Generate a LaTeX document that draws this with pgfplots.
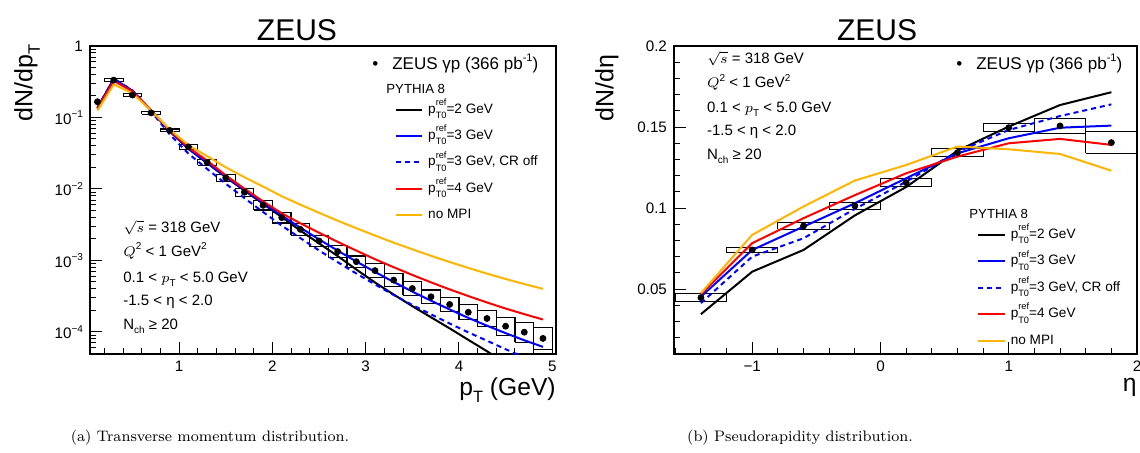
\documentclass[border=0pt]{standalone}
\usepackage{pgfplots}
\pgfplotsset{compat=1.18}
\usepackage{fontspec}
\newfontfamily\arial{Liberation Sans}
\definecolor{rootorange}{RGB}{255,180,0}
\definecolor{rootblue}{RGB}{0,0,255}
\definecolor{rootred}{RGB}{255,0,0}
\newcommand{\supr}[1]{\raisebox{0.42em}{\fontsize{5}{6}\selectfont #1}}
\newcommand{\subr}[1]{\raisebox{-0.28em}{\fontsize{5}{6}\selectfont #1}}
\newcommand{\ptref}[1]{p\rlap{\raisebox{0.58em}{\fontsize{4.6}{5}\selectfont ref}}\raisebox{-0.4em}{\fontsize{4.6}{5}\selectfont T0}#1}
\pgfplotsset{
  rootstyle/.style={
    scale only axis, height=154pt,
    axis line style={line width=0.75pt},
    tick style={line width=0.5pt, black},
    major tick length=6pt, minor tick length=3pt,
    tick pos=left, tick align=inside,
    tick label style={font=\arial\fontsize{7.6}{9}\selectfont},
    legend style={draw=none, fill=none, font=\arial\fontsize{6.8}{8}\selectfont,
      legend cell align=left, row sep=4.7pt,
      nodes={inner sep=0pt, text height=6pt, text depth=2.5pt},
      /tikz/every odd column/.append style={column sep=2.5pt}},
    legend image code/.code={\draw[##1] (0pt,0pt) -- (13.3pt,0pt);},
    unbounded coords=jump,
  },
  sysbox/.style={black, line width=0.55pt, mark=none, forget plot},
  datapt/.style={only marks, mark=*, mark size=1.5pt, black, forget plot},
  mc/.style={line width=1pt, mark=none},
}
\begin{document}
\begin{tikzpicture}
\useasboundingbox (0pt,0pt) rectangle (570pt,226pt);
% ---------------- left: pT ----------------
\begin{axis}[rootstyle, at={(45pt,49pt)}, anchor=south west, width=233pt,
  ymode=log, xmin=0.045, xmax=5.04, ymin=4.9e-5, ymax=1,
  xtick={1,2,3,4,5}, xticklabels={1,2,3,4,5},
  minor xtick={0.2,0.4,0.6,0.8,1.2,1.4,1.6,1.8,2.2,2.4,2.6,2.8,3.2,3.4,3.6,3.8,4.2,4.4,4.6,4.8},
  ytick={1e-4,1e-3,1e-2,1e-1,1},
  yticklabels={10\supr{−4},10\supr{−3},10\supr{−2},10\supr{−1},1},
  minor ytick={5e-5,6e-5,7e-5,8e-5,9e-5,2e-4,3e-4,4e-4,5e-4,6e-4,7e-4,8e-4,9e-4,2e-3,3e-3,4e-3,5e-3,6e-3,7e-3,8e-3,9e-3,2e-2,3e-2,4e-2,5e-2,6e-2,7e-2,8e-2,9e-2,0.2,0.3,0.4,0.5,0.6,0.7,0.8,0.9},
  legend style={at={(rel axis cs:0.640,0.622)}, anchor=west},
]
\addplot[sysbox] coordinates {
(0.10,0.1585) (0.15,0.1585) (0.15,0.1738) (0.10,0.1738) (0.10,0.1585) (nan,nan)
(0.2,0.318) (0.4,0.318) (0.4,0.3487) (0.2,0.3487) (0.2,0.318) (nan,nan)
(0.4,0.1968) (0.6,0.1968) (0.6,0.2157) (0.4,0.2157) (0.4,0.1968) (nan,nan)
(0.6,0.1108) (0.8,0.1108) (0.8,0.1215) (0.6,0.1215) (0.6,0.1108) (nan,nan)
(0.8,0.06285) (1.0,0.06285) (1.0,0.06889) (0.8,0.06889) (0.8,0.06285) (nan,nan)
(1.0,0.03579) (1.2,0.03579) (1.2,0.04206) (1.0,0.04206) (1.0,0.03579) (nan,nan)
(1.2,0.02153) (1.4,0.02153) (1.4,0.02587) (1.2,0.02587) (1.2,0.02153) (nan,nan)
(1.4,0.01279) (1.6,0.01279) (1.6,0.01587) (1.4,0.01587) (1.4,0.01279) (nan,nan)
(1.6,0.00793) (1.8,0.00793) (1.8,0.01022) (1.6,0.01022) (1.6,0.00793) (nan,nan)
(1.8,0.00508) (2.0,0.00508) (2.0,0.00685) (1.8,0.00685) (1.8,0.00508) (nan,nan)
(2.0,0.00334) (2.2,0.00334) (2.2,0.00472) (2.0,0.00472) (2.0,0.00334) (nan,nan)
(2.2,0.002263) (2.4,0.002263) (2.4,0.00327) (2.2,0.00327) (2.2,0.002263) (nan,nan)
(2.4,0.001556) (2.6,0.001556) (2.6,0.002248) (2.4,0.002248) (2.4,0.001556) (nan,nan)
(2.6,0.001107) (2.8,0.001107) (2.8,0.001599) (2.6,0.001599) (2.6,0.001107) (nan,nan)
(2.8,0.000799) (3.0,0.000799) (3.0,0.001154) (2.8,0.001154) (2.8,0.000799) (nan,nan)
(3.0,0.000578) (3.2,0.000578) (3.2,0.000896) (3.0,0.000896) (3.0,0.000578) (nan,nan)
(3.2,0.000426) (3.4,0.000426) (3.4,0.00066) (3.2,0.00066) (3.2,0.000426) (nan,nan)
(3.4,0.000325) (3.6,0.000325) (3.6,0.000504) (3.4,0.000504) (3.4,0.000325) (nan,nan)
(3.6,0.000249) (3.8,0.000249) (3.8,0.000386) (3.6,0.000386) (3.6,0.000249) (nan,nan)
(3.8,0.000194) (4.0,0.000194) (4.0,0.000301) (3.8,0.000301) (3.8,0.000194) (nan,nan)
(4.0,0.0001476) (4.2,0.0001476) (4.2,0.0002395) (4.0,0.0002395) (4.0,0.0001476) (nan,nan)
(4.2,0.0001182) (4.4,0.0001182) (4.4,0.0002007) (4.2,0.0002007) (4.2,0.0001182) (nan,nan)
(4.4,0.00009) (4.6,0.00009) (4.6,0.00016) (4.4,0.00016) (4.4,0.00009) (nan,nan)
(4.6,0.0000717) (4.8,0.0000717) (4.8,0.0001366) (4.6,0.0001366) (4.6,0.0000717) (nan,nan)
(4.8,0.0000573) (5.0,0.0000573) (5.0,0.0001145) (4.8,0.0001145) (4.8,0.0000573)
};
\addplot[mc, black] coordinates {(0.125,0.135) (0.3,0.345) (0.5,0.235) (0.7,0.125) (0.9,0.064) (1.1,0.0364) (1.3,0.0230) (1.5,0.0146) (1.7,0.0095) (1.9,0.0062) (2.1,4.04e-3) (2.3,2.61e-3) (2.5,1.73e-3) (2.7,1.15e-3) (2.9,7.45e-4) (3.1,4.91e-4) (3.3,3.33e-4) (3.5,2.29e-4) (3.7,1.60e-4) (3.9,1.12e-4) (4.1,7.73e-5) (4.3,5.36e-5) (4.5,3.64e-5) (4.7,2.46e-5) (4.9,1.69e-5)};
\addlegendentry{\ptref{=2 GeV}}
\addplot[mc, rootblue] coordinates {(0.125,0.137) (0.3,0.345) (0.5,0.237) (0.7,0.126) (0.9,0.0645) (1.1,0.0366) (1.3,0.0232) (1.5,0.01483) (1.7,9.65e-3) (1.9,6.36e-3) (2.1,4.24e-3) (2.3,2.87e-3) (2.5,1.97e-3) (2.7,1.37e-3) (2.9,9.65e-4) (3.1,6.90e-4) (3.3,4.99e-4) (3.5,3.66e-4) (3.7,2.73e-4) (3.9,2.06e-4) (4.1,1.57e-4) (4.3,1.22e-4) (4.5,9.6e-5) (4.7,7.62e-5) (4.9,6.17e-5)};
\addlegendentry{\ptref{=3 GeV}}
\addplot[mc, rootblue, dash pattern=on 2.5pt off 2pt] coordinates {(0.125,0.137) (0.3,0.35) (0.5,0.238) (0.7,0.122) (0.9,0.058) (1.1,0.0312) (1.3,0.01908) (1.5,0.01183) (1.7,7.45e-3) (1.9,4.76e-3) (2.1,3.07e-3) (2.3,2.05e-3) (2.5,1.38e-3) (2.7,9.44e-4) (2.9,6.55e-4) (3.1,4.61e-4) (3.3,3.28e-4) (3.5,2.38e-4) (3.7,1.76e-4) (3.9,1.31e-4) (4.1,9.84e-5) (4.3,7.52e-5) (4.5,5.72e-5) (4.7,4.40e-5) (4.9,3.44e-5)};
\addlegendentry{\ptref{=3 GeV, CR off}}
\addplot[mc, rootred] coordinates {(0.125,0.133) (0.3,0.325) (0.5,0.232) (0.7,0.126) (0.9,0.066) (1.1,0.0381) (1.3,0.0250) (1.5,0.0155) (1.7,0.0101) (1.9,6.7e-3) (2.1,4.56e-3) (2.3,3.31e-3) (2.5,2.44e-3) (2.7,1.82e-3) (2.9,1.37e-3) (3.1,1.04e-3) (3.3,8.03e-4) (3.5,6.26e-4) (3.7,4.93e-4) (3.9,3.93e-4) (4.1,3.17e-4) (4.3,2.58e-4) (4.5,2.12e-4) (4.7,1.77e-4) (4.9,1.49e-4)};
\addlegendentry{\ptref{=4 GeV}}
\addplot[mc, rootorange] coordinates {(0.125,0.125) (0.3,0.29) (0.5,0.218) (0.7,0.125) (0.9,0.068) (1.1,0.041) (1.3,0.0288) (1.5,0.0201) (1.7,0.0146) (1.9,0.0108) (2.1,7.9e-3) (2.3,6.03e-3) (2.5,4.64e-3) (2.7,3.59e-3) (2.9,2.82e-3) (3.1,2.23e-3) (3.3,1.77e-3) (3.5,1.43e-3) (3.7,1.16e-3) (3.9,9.5e-4) (4.1,7.85e-4) (4.3,6.53e-4) (4.5,5.5e-4) (4.7,4.67e-4) (4.9,4.0e-4)};
\addlegendentry{no MPI}
\addplot[datapt] coordinates {(0.125,0.166) (0.3,0.333) (0.5,0.206) (0.7,0.116) (0.9,0.0658) (1.1,0.0388) (1.3,0.0236) (1.5,0.01425) (1.7,0.0090) (1.9,0.0059) (2.1,0.00397) (2.3,0.00272) (2.5,0.00187) (2.7,0.00133) (2.9,0.00096) (3.1,0.00072) (3.3,0.00053) (3.5,0.000405) (3.7,0.00031) (3.9,0.000242) (4.1,0.000188) (4.3,0.000154) (4.5,0.00012) (4.7,0.000099) (4.9,0.000081)};
\end{axis}
% ---------------- right: eta ----------------
\begin{axis}[rootstyle, at={(337pt,49pt)}, anchor=south west, width=231.5pt,
  xmin=-1.61, xmax=2.0, ymin=0.01, ymax=0.2,
  xtick={-1,0,1,2}, xticklabels={−1,0,1,2},
  minor xtick={-1.6,-1.4,-1.2,-0.8,-0.6,-0.4,-0.2,0.2,0.4,0.6,0.8,1.2,1.4,1.6,1.8},
  ytick={0.05,0.1,0.15,0.2}, yticklabels={0.05,0.1,0.15,0.2},
  minor ytick={0.02,0.03,0.04,0.06,0.07,0.08,0.09,0.11,0.12,0.13,0.14,0.16,0.17,0.18,0.19},
  legend style={at={(rel axis cs:0.641,0.215)}, anchor=west},
]
\addplot[sysbox] coordinates {
(-1.6,0.0425) (-1.2,0.0425) (-1.2,0.0471) (-1.6,0.0471) (-1.6,0.0425) (nan,nan)
(-1.2,0.0725) (-0.8,0.0725) (-0.8,0.0759) (-1.2,0.0759) (-1.2,0.0725) (nan,nan)
(-0.8,0.0870) (-0.4,0.0870) (-0.4,0.0910) (-0.8,0.0910) (-0.8,0.0870) (nan,nan)
(-0.4,0.0991) (0.0,0.0991) (0.0,0.1037) (-0.4,0.1037) (-0.4,0.0991) (nan,nan)
(0.0,0.1131) (0.4,0.1131) (0.4,0.1183) (0.0,0.1183) (0.0,0.1131) (nan,nan)
(0.4,0.1318) (0.8,0.1318) (0.8,0.1366) (0.4,0.1366) (0.4,0.1318) (nan,nan)
(0.8,0.1472) (1.2,0.1472) (1.2,0.1520) (0.8,0.1520) (0.8,0.1472) (nan,nan)
(1.2,0.1462) (1.6,0.1462) (1.6,0.1552) (1.2,0.1552) (1.2,0.1462) (nan,nan)
(1.6,0.1338) (2.0,0.1338) (2.0,0.1470) (1.6,0.1470) (1.6,0.1338)
};
\addplot[mc, black] coordinates {(-1.4,0.0346) (-1.0,0.0608) (-0.6,0.0742) (-0.2,0.0955) (0.2,0.113) (0.6,0.1354) (1.0,0.1503) (1.4,0.1636) (1.8,0.1715)};
\addlegendentry{\ptref{=2 GeV}}
\addplot[mc, rootblue] coordinates {(-1.4,0.0454) (-1.0,0.0742) (-0.6,0.0886) (-0.2,0.103) (0.2,0.1184) (0.6,0.1338) (1.0,0.1431) (1.4,0.1496) (1.8,0.1509)};
\addlegendentry{\ptref{=3 GeV}}
\addplot[mc, rootblue, dash pattern=on 2.5pt off 2pt] coordinates {(-1.4,0.0414) (-1.0,0.0701) (-0.6,0.0814) (-0.2,0.0995) (0.2,0.1163) (0.6,0.1348) (1.0,0.1482) (1.4,0.1568) (1.8,0.164)};
\addlegendentry{\ptref{=3 GeV, CR off}}
\addplot[mc, rootred] coordinates {(-1.4,0.0469) (-1.0,0.0784) (-0.6,0.0938) (-0.2,0.108) (0.2,0.1215) (0.6,0.1318) (1.0,0.140) (1.4,0.1427) (1.8,0.139)};
\addlegendentry{\ptref{=4 GeV}}
\addplot[mc, rootorange] coordinates {(-1.4,0.0475) (-1.0,0.0835) (-0.6,0.101) (-0.2,0.117) (0.2,0.1266) (0.6,0.138) (1.0,0.1363) (1.4,0.1334) (1.8,0.1231)};
\addlegendentry{no MPI}
\addplot[datapt] coordinates {(-1.4,0.0448) (-1.0,0.0742) (-0.6,0.0890) (-0.2,0.1014) (0.2,0.1157) (0.6,0.1342) (1.0,0.1496) (1.4,0.1507) (1.8,0.1404)};
\end{axis}
% ---------------- texts ----------------
\node[anchor=base, font=\arial\fontsize{15}{17}\selectfont] at (148.5pt,206pt) {ZEUS};
\node[anchor=base, font=\arial\fontsize{15}{17}\selectfont] at (438.5pt,206pt) {ZEUS};
\node[rotate=90, anchor=east, inner sep=0pt, font=\arial\fontsize{12.5}{14}\selectfont] at (13.5pt,204pt) {dN/dp\raisebox{-0.3em}{\fontsize{8.3}{9}\selectfont T}};
\node[rotate=90, anchor=east, inner sep=0pt, font=\arial\fontsize{12.5}{14}\selectfont] at (303.5pt,199pt) {dN/dη};
\node[anchor=base east, inner sep=0pt, font=\arial\fontsize{12.3}{14}\selectfont] at (278pt,28.5pt) {p\raisebox{-0.3em}{\fontsize{8.2}{9}\selectfont T} (GeV)};
\node[anchor=base east, inner sep=0pt, font=\arial\fontsize{12.3}{14}\selectfont] at (568.5pt,30.5pt) {η};
% data legend entries
\node[anchor=base west, inner sep=0pt, font=\arial\fontsize{8.5}{10}\selectfont] at (186pt,191.5pt) {•\hspace{7pt}ZEUS γp (366 pb\raisebox{0.42em}{\fontsize{5.5}{6}\selectfont -1})};
\node[anchor=base west, inner sep=0pt, font=\arial\fontsize{8.5}{10}\selectfont] at (478pt,191.5pt) {•\hspace{7pt}ZEUS γp (366 pb\raisebox{0.42em}{\fontsize{5.5}{6}\selectfont -1})};
\node[anchor=base west, inner sep=0pt, font=\arial\fontsize{6.6}{8}\selectfont] at (193pt,179.5pt) {PYTHIA 8};
\node[anchor=base west, inner sep=0pt, font=\arial\fontsize{6.6}{8}\selectfont] at (484.5pt,117pt) {PYTHIA 8};
% cut blocks
\begin{scope}[every node/.style={anchor=base west, inner sep=0pt, font=\arial\fontsize{7.5}{9}\selectfont}]
\node at (61.5pt,110pt) {$\sqrt{s}$ = 318 GeV};
\node at (61.5pt,98pt) {$Q$\supr{2} < 1 GeV\supr{2}};
\node at (61.5pt,85pt) {0.1 < $p$\subr{T} < 5.0 GeV};
\node at (61.5pt,73.5pt) {-1.5 < η < 2.0};
\node at (61.5pt,61.5pt) {N\subr{ch} ≥ 20};
\node at (353.3pt,194.5pt) {$\sqrt{s}$ = 318 GeV};
\node at (353.3pt,182.2pt) {$Q$\supr{2} < 1 GeV\supr{2}};
\node at (353.3pt,169.8pt) {0.1 < $p$\subr{T} < 5.0 GeV};
\node at (353.3pt,158.2pt) {-1.5 < η < 2.0};
\node at (353.3pt,146.2pt) {N\subr{ch} ≥ 20};
\end{scope}
% captions
\node[anchor=base, inner sep=0pt, font=\fontsize{7.6}{9}\selectfont] at (105pt,5.5pt) {(a) Transverse momentum distribution.};
\node[anchor=base, inner sep=0pt, font=\fontsize{7.6}{9}\selectfont] at (400pt,5.5pt) {(b) Pseudorapidity distribution.};
\end{tikzpicture}
\end{document}
